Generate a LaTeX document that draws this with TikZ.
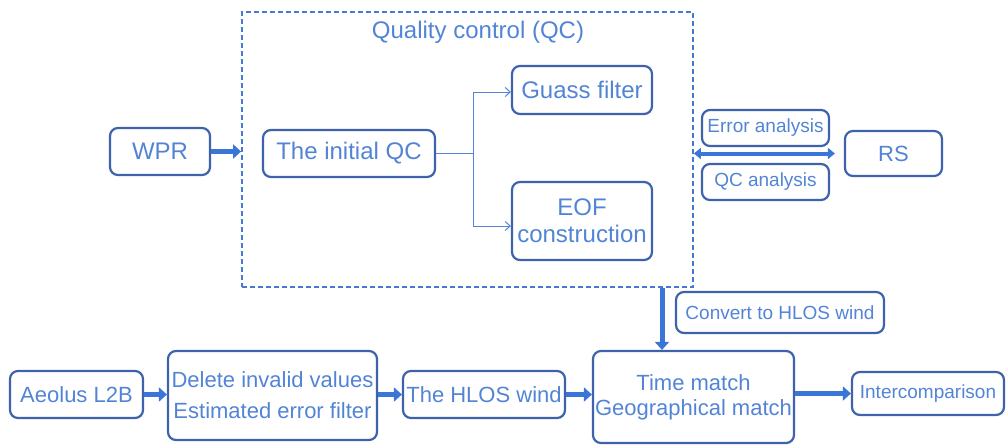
\documentclass[tikz,border=0pt]{standalone}
\usepackage{fontspec}
\setmainfont{Liberation Sans}
\usetikzlibrary{arrows.meta}
\definecolor{txt}{RGB}{82,132,214}
\definecolor{bord}{RGB}{62,98,172}
\definecolor{arr}{RGB}{58,118,216}
\definecolor{dash}{RGB}{70,122,210}
\tikzset{
  box/.style={draw=bord, line width=2.2pt, rounded corners=8pt, text=txt, align=center, inner sep=0pt},
  fbig/.style={font=\fontsize{24}{27}\selectfont},
  fmid/.style={font=\fontsize{22}{25}\selectfont},
  fsmall/.style={font=\fontsize{19}{21}\selectfont},
  fatarrow/.style={draw=arr, line width=5pt, -{Triangle[length=8pt,width=14pt]}},
  dblarrow/.style={draw=arr, line width=4pt, {Triangle[length=7pt,width=11pt]}-{Triangle[length=7pt,width=11pt]}},
  thinarrow/.style={draw=txt, line width=1pt, -{Straight Barb[length=5pt,width=9pt]}},
}
\begin{document}
\begin{tikzpicture}[x=1pt,y=-1pt]
\useasboundingbox (0,0) rectangle (1006,445);
% QC dashed region
\node[draw=dash, dash pattern=on 5pt off 3pt, line width=1.8pt, minimum width=451pt, minimum height=275pt, inner sep=0pt] (qc) at (467.5,149.5) {};
\node[text=txt, fbig] (qctitle) at (478,32) {Quality control (QC)};
% nodes
\node[box, fbig, minimum width=100pt, minimum height=47pt] (wpr) at (160,151.5) {WPR};
\node[box, fbig, minimum width=172pt, minimum height=47pt] (iqc) at (349,153.5) {The initial QC};
\node[box, fbig, minimum width=140pt, minimum height=48pt] (guass) at (582,90) {Guass filter};
\node[box, fbig, minimum width=140pt, minimum height=78pt] (eof) at (582,221) {EOF\\construction};
\node[box, fsmall, minimum width=127pt, minimum height=36pt] (err) at (765.5,128) {Error analysis};
\node[box, fsmall, minimum width=127pt, minimum height=36pt] (qca) at (765.5,182) {QC analysis};
\node[box, fmid, minimum width=97pt, minimum height=45pt] (rs) at (893.5,153.5) {RS};
\node[box, fsmall, minimum width=208pt, minimum height=41pt] (conv) at (780,312.5) {Convert to HLOS wind};
\node[box, fmid, minimum width=133pt, minimum height=47pt] (aeo) at (76.5,394.5) {Aeolus L2B};
\node[box, fmid, font=\fontsize{22}{31}\selectfont, minimum width=209pt, minimum height=89pt] (del) at (272.5,395.5) {Delete invalid values\\Estimated error filter};
\node[box, fmid, minimum width=162pt, minimum height=47pt] (hlos) at (484,394.5) {The HLOS wind};
\node[box, fmid, minimum width=201pt, minimum height=92pt] (tm) at (693.5,397) {Time match\\Geographical match};
\node[box, fsmall, minimum width=152pt, minimum height=43pt] (inter) at (928,393.5) {Intercomparison};
% connectors
\draw[fatarrow] (wpr.east) -- (wpr.east -| qc.west);
\draw[txt, line width=1pt] (iqc.east) -- ++(37,0) coordinate (split);
\draw[thinarrow] (split) |- ([yshift=-2pt]guass.west);
\draw[thinarrow] (split) |- ([yshift=-5pt]eof.west);
\draw[dblarrow] (qc.east |- rs.west) -- ([xshift=-9pt]rs.west);
\draw[fatarrow] ([xshift=-31.5pt]tm.north |- qc.south) -- ([xshift=-31.5pt]tm.north);
\draw[fatarrow] (aeo.east) -- (aeo.east -| del.west);
\draw[fatarrow] (del.east |- hlos.east) -- (hlos.west);
\draw[fatarrow] (hlos.east) -- (hlos.east -| tm.west);
\draw[fatarrow] (tm.east |- inter.west) -- (inter.west);
\end{tikzpicture}
\end{document}
